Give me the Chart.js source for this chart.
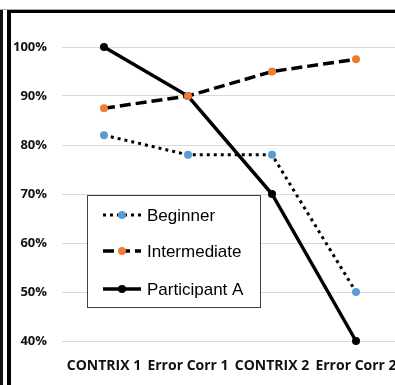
<!DOCTYPE html>
<html>
<head>
<meta charset="utf-8">
<script src="https://cdn.jsdelivr.net/npm/chart.js@4.4.1/dist/chart.umd.min.js"></script>
<style>
  body { margin: 0; background: #fff; overflow: hidden; width: 395px; height: 385px; position: relative; }
  #myCanvas { position: absolute; left: 0; top: 0; }
  .frame-thin { position: absolute; left: 0; top: 10px; width: 3px; height: 380px; background: #111; }
  .frame-top { position: absolute; left: 0; top: 9px; width: 395px; height: 1px; background: #aaa; }
  .frame { position: absolute; left: 7px; top: 10px; width: 400px; height: 400px;
           border-left: 4px solid #000; border-top: 3px solid #000; }
</style>
</head>
<body>
<canvas id="myCanvas" width="410" height="385"></canvas>
<div class="frame-top"></div>
<div class="frame-thin"></div>
<div class="frame"></div>
<script>
const categories = ["CONTRIX 1", "Error Corr 1", "CONTRIX 2", "Error Corr 2"];
const seriesNames = ["Beginner", "Intermediate", "Participant A"];
const beginner = [82, 78, 78, 50];
const intermediate = [87.5, 90, 95, 97.5];
const participantA = [100, 90, 70, 40];
const yMin = 40;
const yMax = 100;
const yStep = 10;

// legend box drawn inside the plot, excel style
const boxLegend = {
    id: "boxLegend",
    afterDraw(chart) {
        const ctx = chart.ctx;
        const x = 87, y = 195, w = 173, h = 112;
        ctx.save();
        ctx.fillStyle = "#fff";
        ctx.fillRect(x, y, w, h);
        ctx.strokeStyle = "#404040";
        ctx.lineWidth = 1;
        ctx.strokeRect(x + 0.5, y + 0.5, w, h);
        const rows = [215, 251, 289];
        chart.data.datasets.forEach((ds, i) => {
            const ry = rows[i];
            ctx.beginPath();
            ctx.setLineDash(ds.borderDash || []);
            ctx.lineWidth = ds.borderWidth;
            ctx.strokeStyle = ds.borderColor;
            ctx.moveTo(103, ry);
            ctx.lineTo(141, ry);
            ctx.stroke();
            ctx.setLineDash([]);
            ctx.beginPath();
            ctx.fillStyle = ds.pointBackgroundColor;
            ctx.arc(122, ry, ds.pointRadius, 0, Math.PI * 2);
            ctx.fill();
            ctx.fillStyle = "#000";
            ctx.font = "17px 'Liberation Sans', Arial, sans-serif";
            ctx.textBaseline = "middle";
            ctx.fillText(ds.label, 147, ry + 1);
        });
        ctx.restore();
    },
};

const canvasId = document.getElementById("myCanvas");
new Chart(canvasId, {
    type: "line",
    data: {
        labels: categories,
        datasets: [
            {
                label: seriesNames[0],
                data: beginner,
                borderColor: "#000",
                borderWidth: 3,
                borderDash: [3, 4],
                pointBackgroundColor: "#5b9bd5",
                pointBorderColor: "#5b9bd5",
                pointRadius: 4,
                pointBorderWidth: 0,
                tension: 0,
                clip: false,
            },
            {
                label: seriesNames[1],
                data: intermediate,
                borderColor: "#000",
                borderWidth: 3.5,
                borderDash: [11, 5],
                pointBackgroundColor: "#ed7d31",
                pointBorderColor: "#ed7d31",
                pointRadius: 4,
                pointBorderWidth: 0,
                tension: 0,
                clip: false,
            },
            {
                label: seriesNames[2],
                data: participantA,
                borderColor: "#000",
                borderWidth: 3.5,
                pointBackgroundColor: "#000",
                pointBorderColor: "#000",
                pointRadius: 4,
                pointBorderWidth: 0,
                tension: 0,
                clip: false,
            },
        ],
    },
    options: {
        responsive: false,
        animation: false,
        layout: { padding: { top: 47, right: 12, left: 0, bottom: 0 } },
        plugins: {
            legend: { display: false },
            tooltip: { enabled: false },
        },
        scales: {
            x: {
                offset: true,
                grid: { display: false },
                border: { display: false },
                afterFit: (scale) => { scale.height = 44; },
                ticks: {
                    color: "#111",
                    maxRotation: 0,
                    autoSkip: false,
                    padding: 9,
                    font: { family: "'Open Sans', sans-serif", size: 14, weight: "bold" },
                },
            },
            y: {
                min: yMin,
                max: yMax,
                grid: { color: "#d9d9d9", lineWidth: 1, drawTicks: false },
                border: { display: false },
                afterFit: (scale) => { scale.width = 62; },
                ticks: {
                    stepSize: yStep,
                    padding: 15,
                    color: "#111",
                    callback: (v) => v + "%",
                    font: { family: "'Open Sans', sans-serif", size: 13, weight: "bold" },
                },
            },
        },
    },
    plugins: [boxLegend],
});
</script>
</body>
</html>
